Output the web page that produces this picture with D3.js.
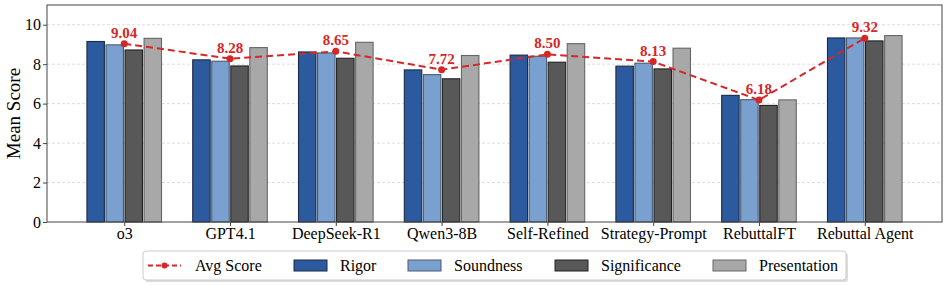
<!DOCTYPE html>
<meta charset="utf-8">
<script src="https://d3js.org/d3.v7.min.js"></script>
<style>
  body { margin: 0; background: #fff; }
</style>
<body>
<svg width="947" height="285"></svg>
<script>
var models = ["o3", "GPT4.1", "DeepSeek-R1", "Qwen3-8B", "Self-Refined", "Strategy-Prompt", "RebuttalFT", "Rebuttal Agent"];
var metrics = ["Rigor", "Soundness", "Significance", "Presentation"];
var rigor        = [9.15, 8.22, 8.62, 7.71, 8.46, 7.90, 6.42, 9.33];
var soundness    = [8.98, 8.15, 8.57, 7.47, 8.40, 8.05, 6.20, 9.33];
var significance = [8.72, 7.91, 8.30, 7.26, 8.10, 7.76, 5.91, 9.18];
var presentation = [9.31, 8.84, 9.11, 8.44, 9.04, 8.81, 6.19, 9.45];
var avgScore     = [9.04, 8.28, 8.65, 7.72, 8.50, 8.13, 6.18, 9.32];
var yTicks = [0, 2, 4, 6, 8, 10];

var seriesVals = [rigor, soundness, significance, presentation];
var colors = ["#2c5a9f", "#7aa0d0", "#585858", "#a8a8a8"];
var edges = ["#1b2a45", "#4a5a70", "#222222", "#666666"];
var red = "#d62728";
var serif = "'Liberation Serif', 'Times New Roman', Times, serif";

var svg = d3.select("svg"),
    margin = {top: 5, right: 5, bottom: 63, left: 47},
    width = 947 - margin.left - margin.right,
    height = 285 - margin.top - margin.bottom,
    g = svg.append("g").attr("transform", "translate(" + margin.left + "," + margin.top + ")");

var x = d3.scaleLinear().domain([-0.73, 7.73]).range([0, width]);
var y = d3.scaleLinear().domain([0, 11]).range([height, 0]);
var slot = 0.18, bw = 0.165;

// grid
g.append("g").selectAll("line")
  .data(yTicks.slice(1))
  .enter().append("line")
  .attr("x1", 0).attr("x2", width)
  .attr("y1", function(d) { return y(d); })
  .attr("y2", function(d) { return y(d); })
  .attr("stroke", "#d4d4d4")
  .attr("stroke-width", 0.8)
  .attr("stroke-dasharray", "3,2");

// bars
var rows = [];
models.forEach(function(m, i) {
  metrics.forEach(function(k, j) {
    rows.push({i: i, j: j, v: seriesVals[j][i]});
  });
});
g.append("g").selectAll("rect")
  .data(rows)
  .enter().append("rect")
  .attr("x", function(d) { return x(d.i + (d.j - 1.5) * slot - bw / 2); })
  .attr("width", function(d) { return x(bw) - x(0); })
  .attr("y", function(d) { return y(d.v); })
  .attr("height", function(d) { return y(0) - y(d.v); })
  .attr("fill", function(d) { return colors[d.j]; })
  .attr("stroke", function(d) { return edges[d.j]; })
  .attr("stroke-width", 1.1);

// avg line
var line = d3.line()
  .x(function(d, i) { return x(i); })
  .y(function(d) { return y(d); });
g.append("path")
  .datum(avgScore)
  .attr("d", line)
  .attr("fill", "none")
  .attr("stroke", red)
  .attr("stroke-width", 2)
  .attr("stroke-dasharray", "7,4");
g.append("g").selectAll("circle")
  .data(avgScore)
  .enter().append("circle")
  .attr("cx", function(d, i) { return x(i); })
  .attr("cy", function(d) { return y(d); })
  .attr("r", 3.5)
  .attr("fill", red);
g.append("g").selectAll("text")
  .data(avgScore)
  .enter().append("text")
  .attr("x", function(d, i) { return x(i); })
  .attr("y", function(d) { return y(d) - 6; })
  .attr("text-anchor", "middle")
  .attr("font-size", 15)
  .attr("font-weight", "bold")
  .attr("fill", red)
  .text(function(d) { return d.toFixed(2); });

// axes
var xAxis = g.append("g")
  .attr("transform", "translate(0," + height + ")")
  .call(d3.axisBottom(x).tickValues(d3.range(models.length)).tickFormat(function(d) { return models[d]; }).tickSize(4).tickPadding(2));
var yAxis = g.append("g")
  .call(d3.axisLeft(y).tickValues(yTicks).tickSize(4).tickPadding(2));
[xAxis, yAxis].forEach(function(a) {
  a.select(".domain").remove();
  a.selectAll("line").attr("stroke", "#444");
  a.selectAll("text").attr("font-size", 16).attr("fill", "#000");
});

g.append("rect")
  .attr("width", width).attr("height", height)
  .attr("fill", "none").attr("stroke", "#444").attr("stroke-width", 1);

g.append("text")
  .attr("transform", "rotate(-90)")
  .attr("x", -height / 2)
  .attr("y", -27)
  .attr("text-anchor", "middle")
  .attr("font-size", 19)
  .text("Mean Score");

// legend
var lg = svg.append("g").attr("transform", "translate(143,251)");
lg.append("rect")
  .attr("x", 2).attr("y", 2).attr("width", 703).attr("height", 29).attr("rx", 3)
  .attr("fill", "#bbb").attr("opacity", 0.5);
lg.append("rect")
  .attr("width", 703).attr("height", 29).attr("rx", 3)
  .attr("fill", "#fff").attr("stroke", "#ccc").attr("stroke-width", 1);

var ly = 14.5;
lg.append("line")
  .attr("x1", 5).attr("x2", 38).attr("y1", ly).attr("y2", ly)
  .attr("stroke", red).attr("stroke-width", 2).attr("stroke-dasharray", "5,3");
lg.append("circle").attr("cx", 21.5).attr("cy", ly).attr("r", 3).attr("fill", red);
lg.append("text").attr("x", 52).attr("y", ly).attr("dy", "0.35em")
  .attr("font-size", 16).text("Avg Score");

var patchX = [151, 265, 412, 570];
metrics.forEach(function(k, j) {
  lg.append("rect")
    .attr("x", patchX[j]).attr("y", ly - 5.5).attr("width", 33).attr("height", 11)
    .attr("fill", colors[j]).attr("stroke", edges[j]).attr("stroke-width", 1);
  lg.append("text").attr("x", patchX[j] + 46).attr("y", ly).attr("dy", "0.35em")
    .attr("font-size", 16).text(k);
});

svg.selectAll("text").style("font-family", serif);
</script>
</body>
